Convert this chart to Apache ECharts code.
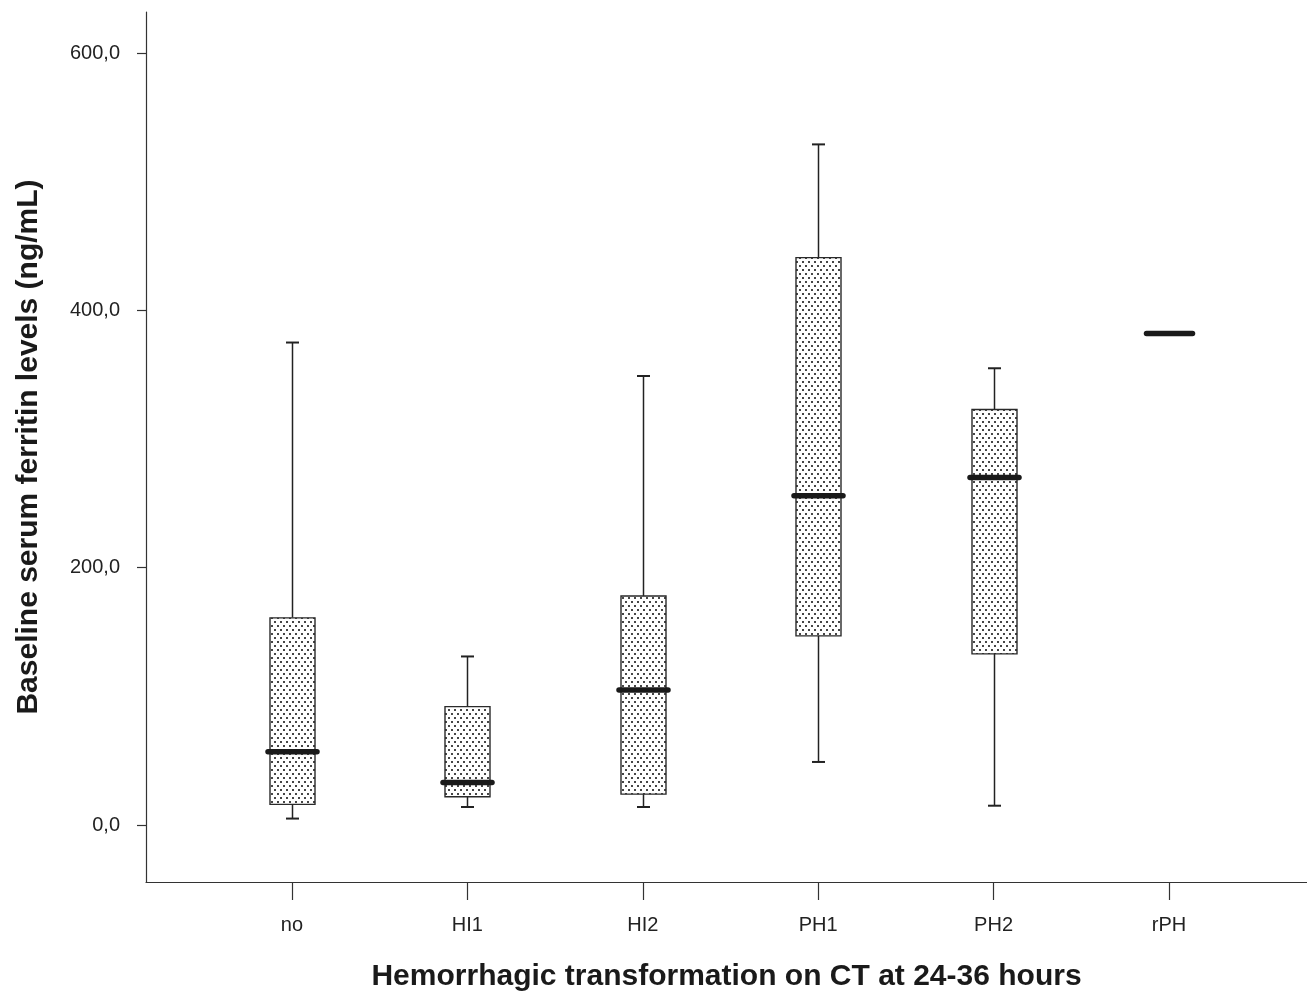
<!DOCTYPE html>
<html>
<head>
<meta charset="utf-8">
<script src="https://cdn.jsdelivr.net/npm/echarts@6/dist/echarts.min.js"></script>
<style>
  html, body { margin: 0; padding: 0; background: #fff; }
  #chart { width: 1307px; height: 993px; }
</style>
</head>
<body>
<div id="chart"></div>
<script>
// groups on the x axis
var categories = ['no', 'HI1', 'HI2', 'PH1', 'PH2', 'rPH'];
// box statistics (ng/mL)
var whiskerLow  = [5,   14,  14,  49,  15,  382];
var q1          = [16,  22,  24,  147, 133, 382];
var median      = [57,  33,  105, 256, 270, 382];
var q3          = [161, 92,  178, 441, 323, 382];
var whiskerHigh = [375, 131, 349, 529, 355, 382];
var yTicks = [0, 200, 400, 600];

var boxData = categories.map(function (c, i) {
  return [i + 1, whiskerLow[i], q1[i], median[i], q3[i], whiskerHigh[i]];
});

// stippled fill like the original print
function makeDots() {
  var cv = document.createElement('canvas');
  cv.width = 6; cv.height = 8;
  var ctx = cv.getContext('2d');
  ctx.fillStyle = '#fff';
  ctx.fillRect(0, 0, 6, 8);
  ctx.fillStyle = 'rgba(50,50,50,0.9)';
  ctx.fillRect(1, 1, 2, 2);
  ctx.fillRect(4, 5, 2, 2);
  return cv;
}
var dotPattern = { image: makeDots(), repeat: 'repeat' };

var chart = echarts.init(document.getElementById('chart'));

function renderBox(params, api) {
  var x = api.value(0);
  var lo = api.coord([x, api.value(1)]);
  var b1 = api.coord([x, api.value(2)]);
  var md = api.coord([x, api.value(3)]);
  var b3 = api.coord([x, api.value(4)]);
  var hi = api.coord([x, api.value(5)]);
  var cx = Math.round(lo[0]) + 0.5;
  var half = 22.5, capHalf = 6.5, medHalf = 24.5;
  var lineStyle = { stroke: '#222', lineWidth: 1.5 };
  var children = [];
  if (api.value(2) !== api.value(4)) {
    children.push(
      { type: 'line', shape: { x1: cx, y1: b3[1], x2: cx, y2: hi[1] }, style: lineStyle },
      { type: 'line', shape: { x1: cx - capHalf, y1: hi[1], x2: cx + capHalf, y2: hi[1] }, style: { stroke: '#222', lineWidth: 2 } },
      { type: 'line', shape: { x1: cx, y1: b1[1], x2: cx, y2: lo[1] }, style: lineStyle },
      { type: 'line', shape: { x1: cx - capHalf, y1: lo[1], x2: cx + capHalf, y2: lo[1] }, style: { stroke: '#222', lineWidth: 2 } },
      { type: 'rect', shape: { x: cx - half, y: b3[1], width: half * 2, height: b1[1] - b3[1] },
        style: { fill: dotPattern, stroke: '#2a2a2a', lineWidth: 1.4 } }
    );
  } else {
    medHalf = 23;
  }
  children.push({
    type: 'line',
    shape: { x1: cx - medHalf, y1: md[1], x2: cx + medHalf, y2: md[1] },
    style: { stroke: '#1a1a1a', lineWidth: 5.5, lineCap: 'round' }
  });
  return { type: 'group', children: children };
}

var option = {
  backgroundColor: '#fff',
  animation: false,
  textStyle: { fontFamily: 'Liberation Sans, Arial, sans-serif' },
  grid: { left: 146, right: 0, top: 12, bottom: 111, containLabel: false, outerBoundsMode: 'none' },
  xAxis: {
    type: 'value',
    min: 0.1676,
    max: 6.787,
    splitLine: { show: false },
    axisLine: { show: true, onZero: false, lineStyle: { color: '#333', width: 1.2 } },
    axisTick: { show: true, customValues: [1, 2, 3, 4, 5, 6], length: 18, inside: false,
      lineStyle: { color: '#333', width: 1.2 } },
    axisLabel: {
      customValues: [1, 2, 3, 4, 5, 6],
      formatter: function (v) { return categories[Math.round(v) - 1] || ''; },
      color: '#222', fontSize: 20, margin: 33
    },
    name: 'Hemorrhagic transformation on CT at 24-36 hours',
    nameLocation: 'middle',
    nameGap: 80,
    nameTextStyle: { fontSize: 30, fontWeight: 'bold', color: '#1a1a1a' }
  },
  yAxis: {
    type: 'value',
    min: -44.3,
    max: 631.9,
    splitLine: { show: false },
    axisLine: { show: true, onZero: false, lineStyle: { color: '#333', width: 1.2 } },
    axisTick: { show: true, customValues: yTicks, length: 9, lineStyle: { color: '#333', width: 1.2 } },
    axisLabel: {
      customValues: yTicks,
      formatter: function (v) { return v.toFixed(1).replace('.', ','); },
      color: '#222', fontSize: 20, margin: 26
    },
    name: 'Baseline serum ferritin levels (ng/mL)',
    nameLocation: 'middle',
    nameGap: 102,
    nameTextStyle: { fontSize: 30, fontWeight: 'bold', color: '#1a1a1a' }
  },
  series: [{
    type: 'custom',
    renderItem: renderBox,
    encode: { x: 0, y: [1, 2, 3, 4, 5] },
    data: boxData,
    clip: false
  }]
};

chart.setOption(option);
</script>
</body>
</html>
